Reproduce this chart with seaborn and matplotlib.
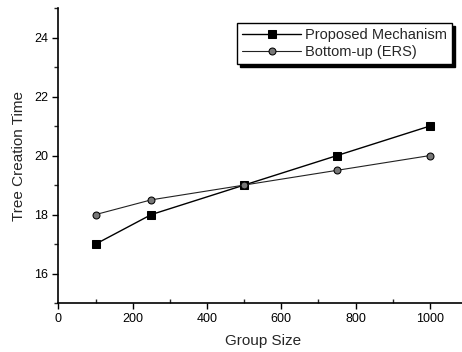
import matplotlib
matplotlib.use("Agg")
import matplotlib.pyplot as plt
import seaborn as sns
import pandas as pd
from matplotlib.ticker import MultipleLocator

sns.set_style("ticks")
plt.rcParams['font.family'] = ['Liberation Sans', 'DejaVu Sans']

group_size = [100, 250, 500, 750, 1000]
proposed = [17, 18, 19, 20, 21]
bottom_up = [18, 18.5, 19, 19.5, 20]
series_names = ["Proposed Mechanism", "Bottom-up (ERS)"]

df = pd.concat([
    pd.DataFrame({"Group Size": group_size, "Time": proposed, "Series": series_names[0]}),
    pd.DataFrame({"Group Size": group_size, "Time": bottom_up, "Series": series_names[1]}),
])

fig = plt.figure(figsize=(4.62, 3.52), dpi=100)
ax = fig.add_axes([0.1266, 0.139, 0.884, 0.838])

sns.lineplot(data=df, x="Group Size", y="Time", hue="Series", style="Series",
             markers={series_names[0]: "s", series_names[1]: "o"},
             dashes=False, palette={series_names[0]: "black", series_names[1]: "#222222"},
             markersize=5.5, linewidth=1.0, markeredgecolor="black", ax=ax, legend=True)
for line in ax.get_lines():
    if line.get_marker() == "o":
        line.set_markerfacecolor("#777777")
        line.set_markersize(5)
        line.set_linewidth(0.8)

ax.set_xlim(0, 1100)
ax.set_ylim(15, 25)
ax.xaxis.set_major_locator(MultipleLocator(200))
ax.xaxis.set_minor_locator(MultipleLocator(100))
ax.yaxis.set_minor_locator(MultipleLocator(1))
ax.set_yticks([16, 18, 20, 22, 24])
ax.tick_params(axis='both', which='major', direction='out', length=4, width=1, labelsize=9, colors='black')
ax.tick_params(axis='x', which='minor', direction='in', length=3, width=1)
ax.tick_params(axis='y', which='minor', direction='out', length=3, width=1)

for s in ["top", "right"]:
    ax.spines[s].set_visible(False)
for s in ["left", "bottom"]:
    ax.spines[s].set_linewidth(1.2)
    ax.spines[s].set_color("black")

ax.set_xlabel("Group Size", fontsize=11, labelpad=6)
ax.set_ylabel("Tree Creation Time", fontsize=11, labelpad=6)

handles, labels = ax.get_legend_handles_labels()
leg = ax.legend(handles, labels, loc="upper right", bbox_to_anchor=(0.975, 0.965),
                fontsize=10.5, frameon=True, fancybox=False,
                shadow={'color': 'black', 'alpha': 1.0, 'ox': 2, 'oy': -2},
                handlelength=4.0, handletextpad=0.3, borderpad=0.35, labelspacing=0.2,
                borderaxespad=0.3)
leg.get_frame().set_edgecolor("black")
leg.get_frame().set_linewidth(1.0)

fig.savefig("out.png", dpi=100)
